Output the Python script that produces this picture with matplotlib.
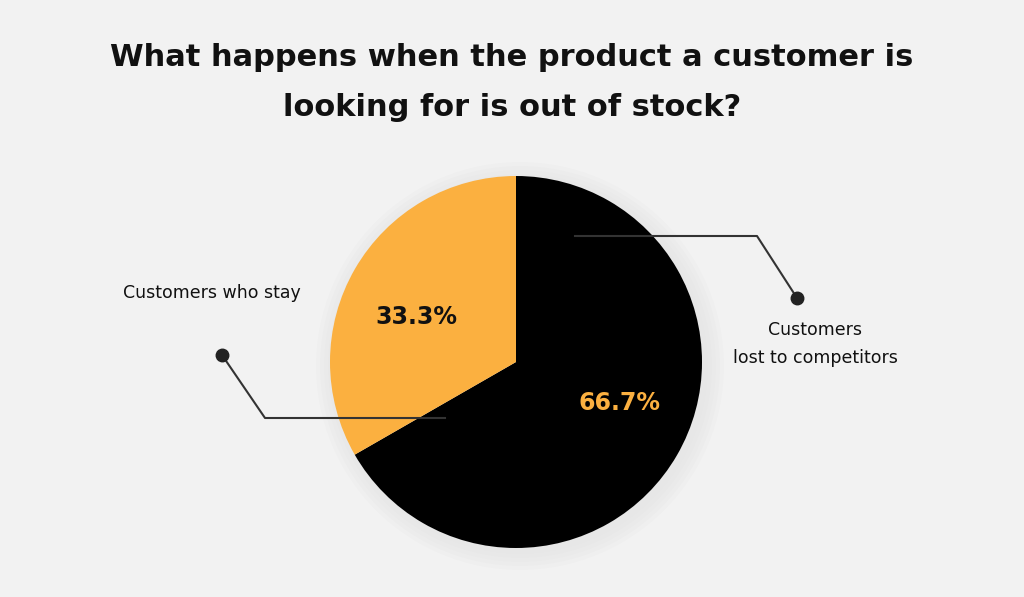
import matplotlib
matplotlib.use("Agg")
import matplotlib.pyplot as plt
from matplotlib.patches import Circle

labels = ["Customers lost to competitors", "Customers who stay"]
values = [66.7, 33.3]
colors = ["#000000", "#FBB040"]
pct_labels = ["66.7%", "33.3%"]

fig = plt.figure(figsize=(10.24, 5.97), dpi=100)
fig.patch.set_facecolor("#F2F2F2")
ax = fig.add_axes([0, 0, 1, 1])
ax.set_xlim(0, 1024); ax.set_ylim(597, 0); ax.set_aspect("equal"); ax.axis("off")

cx, cy, r = 516, 362, 186
for i, a in enumerate([0.012, 0.01, 0.008, 0.006, 0.004]):
    ax.add_patch(Circle((cx + 4, cy + 4), r + 18 - i * 4, color="#000000", alpha=a, lw=0, zorder=1))

# y axis is inverted (pixel coords), so angles are mirrored
ax.pie(values, colors=colors, startangle=-90, counterclock=True, center=(cx, cy),
       radius=r, frame=True, wedgeprops=dict(linewidth=0, zorder=2))
ax.set_xlim(0, 1024); ax.set_ylim(597, 0); ax.axis("off")

ax.text(512, 57, "What happens when the product a customer is", ha="center", va="center",
        fontsize=22, fontweight="bold", color="#111111")
ax.text(512, 107, "looking for is out of stock?", ha="center", va="center",
        fontsize=22, fontweight="bold", color="#111111")

ax.text(416, 317, pct_labels[1], ha="center", va="center", fontsize=17, fontweight="bold", color="#111111", zorder=5)
ax.text(619, 403, pct_labels[0], ha="center", va="center", fontsize=17, fontweight="bold", color=colors[1], zorder=5)

ax.plot([575, 757, 797], [236, 236, 298], color="#333333", lw=1.5, zorder=5)
ax.plot([797], [298], "o", color="#222222", ms=9, zorder=6)
ax.plot([445, 265, 222], [418, 418, 355], color="#333333", lw=1.5, zorder=5)
ax.plot([222], [355], "o", color="#222222", ms=9, zorder=6)

ax.text(212, 293, labels[1], ha="center", va="center", fontsize=12.5, color="#111111")
ax.text(815, 344, "Customers\nlost to competitors", ha="center", va="center", fontsize=12.5,
        color="#111111", linespacing=1.7)

fig.savefig("out.png", dpi=100, facecolor=fig.get_facecolor())
